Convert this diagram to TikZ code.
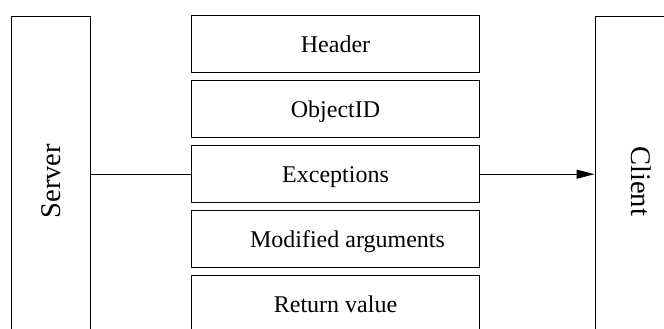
\documentclass[tikz,border=0pt]{standalone}
\usepackage{fontspec}
\setmainfont{Liberation Serif}
\usetikzlibrary{arrows.meta}
\tikzset{fld/.style={draw,line width=1pt,minimum width=287.6pt,minimum height=57pt,inner sep=0pt,text height=22pt,text depth=6pt,font=\fontsize{24}{24}\selectfont}}
\tikzset{side/.style={draw,line width=1pt,anchor=north,minimum height=330pt,inner sep=0pt,font=\fontsize{28.5}{28.5}\selectfont}}
\begin{document}
\begin{tikzpicture}[line join=round,x=1pt,y=-1pt]
            \useasboundingbox (0,0) rectangle (664,329);
            \clip (0,0) rectangle (664,329);
            \node[side,minimum width=78.6pt] (srv) at (51,15.7) {\rotatebox{90}{Server}};
            \node[side,minimum width=92pt] (cli) at (641,15.7) {\rotatebox{-90}{Client}};
            \node[fld] (hdr) at (335.5,44.2) {Header};
            \node[fld] (oid) at (335.5,109.2) {ObjectID};
            \node[fld] (exc) at (335.5,174.2) {Exceptions};
            \node[fld] (mod) at (335.5,239.2) {\hspace{1em}Modified arguments};
            \node[fld] (ret) at (335.5,304.2) {Return value};
            \draw[line width=1pt] (exc.west) -- (exc.west -| srv.east);
            \draw[line width=1pt,-{Triangle[length=18pt,width=9pt]}] (exc.east) -- (exc.east -| cli.west);
          \end{tikzpicture}
\end{document}
